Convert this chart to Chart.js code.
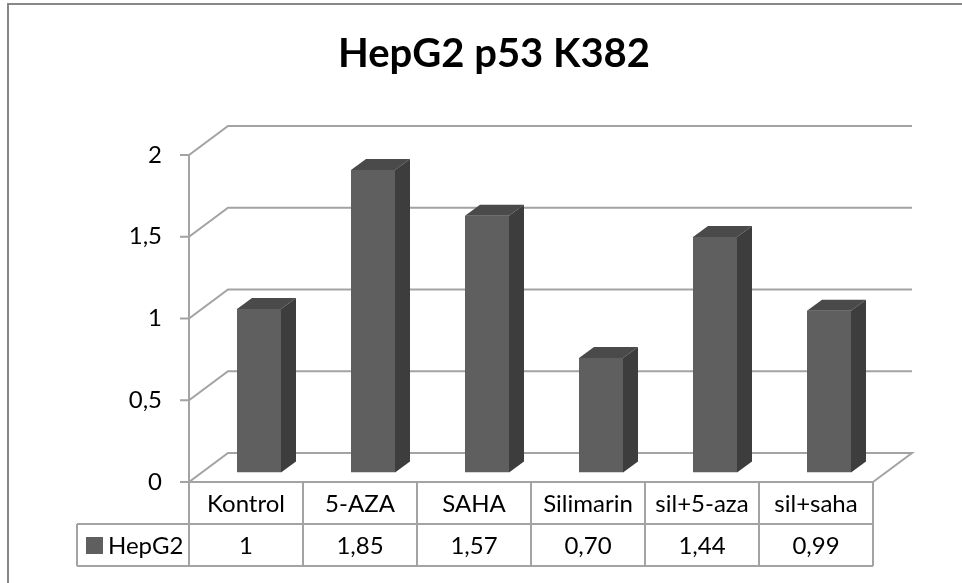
<!DOCTYPE html>
<html>
<head>
<meta charset="utf-8">
<script src="https://cdn.jsdelivr.net/npm/chart.js@4.4.1/dist/chart.umd.min.js"></script>
<style>
  html, body { margin: 0; padding: 0; background: #fff; }
</style>
</head>
<body>
<canvas id="chart" width="962" height="583"></canvas>
<script>
const title = 'HepG2 p53 K382';
const categories = ['Kontrol', '5-AZA', 'SAHA', 'Silimarin', 'sil+5-aza', 'sil+saha'];
const seriesName = 'HepG2';
const values = [1, 1.85, 1.57, 0.70, 1.44, 0.99];
const yTicks = [0, 0.5, 1, 1.5, 2];

// 3d offsets: bars sit on a plane a third of the way into the box
const depth = {fx: -13, fy: 9.5, bx: 26, by: -19.5, barX: 15, barY: -11};
const rowH = 42;
const legendLeft = 77;

const fmtValue = v => Number.isInteger(v) ? String(v) : v.toFixed(2).replace('.', ',');
const fmtTick = v => String(v).replace('.', ',');

const chart3d = {
  id: 'chart3d',
  beforeDraw(chart) {
    const ctx = chart.ctx;
    ctx.save();
    ctx.strokeStyle = '#878787';
    ctx.lineWidth = 2;
    ctx.strokeRect(8, 4, 1200, 1200); // outer frame runs off the picture
    // title is centred on the whole frame, not the plot
    ctx.fillStyle = '#000';
    ctx.font = 'bold 40px Lato';
    ctx.textAlign = 'center';
    ctx.textBaseline = 'alphabetic';
    ctx.fillText(title, 494, 67);
    ctx.restore();
  },
  beforeDatasetsDraw(chart) {
    const {ctx, chartArea: a, scales: {x, y}} = chart;
    const fl = a.left + depth.fx, fr = a.right + depth.fx;
    const bl = a.left + depth.bx, br = a.right + depth.bx;
    const r0 = y.getPixelForValue(0) + depth.fy;
    const r1 = r0 + rowH, r2 = r1 + rowH;
    const colW = x.width / categories.length;

    ctx.save();
    ctx.lineWidth = 2;
    ctx.strokeStyle = '#a3a3a3';

    // walls + gridlines
    yTicks.forEach(t => {
      const py = y.getPixelForValue(t);
      ctx.beginPath();
      ctx.moveTo(fl - 9, py + depth.fy);
      ctx.lineTo(fl, py + depth.fy);
      ctx.lineTo(bl, py + depth.by);
      ctx.lineTo(br, py + depth.by);
      if (t === 0) ctx.lineTo(fr, r0);
      ctx.stroke();
    });

    // front axis down through the table
    ctx.beginPath();
    ctx.moveTo(fl, y.getPixelForValue(yTicks[yTicks.length - 1]) + depth.fy);
    ctx.lineTo(fl, r2);
    ctx.stroke();

    // data table
    ctx.beginPath();
    ctx.moveTo(fl, r0); ctx.lineTo(fr, r0);
    ctx.moveTo(legendLeft, r1); ctx.lineTo(fr, r1);
    ctx.moveTo(legendLeft, r2); ctx.lineTo(fr, r2);
    ctx.moveTo(legendLeft, r1); ctx.lineTo(legendLeft, r2);
    for (let i = 1; i <= categories.length; i++) {
      const cx = x.getPixelForValue(i - 1) + colW / 2 + depth.fx;
      ctx.moveTo(cx, r0); ctx.lineTo(cx, r2);
    }
    ctx.stroke();

    ctx.fillStyle = '#000';
    ctx.font = '24px Lato';
    ctx.textBaseline = 'middle';

    // y tick labels
    ctx.textAlign = 'right';
    yTicks.forEach(t => {
      ctx.fillText(fmtTick(t), fl - 27, y.getPixelForValue(t) + depth.fy);
    });

    ctx.textAlign = 'center';
    categories.forEach((c, i) => {
      const cx = x.getPixelForValue(i) + depth.fx;
      ctx.fillText(c, cx, (r0 + r1) / 2 + 1);
      ctx.fillText(fmtValue(values[i]), cx, (r1 + r2) / 2 + 1);
    });

    // legend key
    ctx.fillStyle = '#5f5f5f';
    ctx.fillRect(legendLeft + 9, (r1 + r2) / 2 - 8, 17, 17);
    ctx.fillStyle = '#000';
    ctx.textAlign = 'left';
    ctx.fillText(seriesName, legendLeft + 31, (r1 + r2) / 2 + 1);
    ctx.restore();
  },
  afterDatasetsDraw(chart) {
    const ctx = chart.ctx;
    const meta = chart.getDatasetMeta(0);
    ctx.save();
    meta.data.forEach(bar => {
      const {x, y, base, width} = bar.getProps(['x', 'y', 'base', 'width'], true);
      const l = x - width / 2, r = x + width / 2;
      // top
      ctx.fillStyle = '#4a4a4a';
      ctx.beginPath();
      ctx.moveTo(l, y);
      ctx.lineTo(l + depth.barX, y + depth.barY);
      ctx.lineTo(r + depth.barX, y + depth.barY);
      ctx.lineTo(r, y);
      ctx.closePath();
      ctx.fill();
      // side
      ctx.fillStyle = '#3d3d3d';
      ctx.beginPath();
      ctx.moveTo(r, y);
      ctx.lineTo(r + depth.barX, y + depth.barY);
      ctx.lineTo(r + depth.barX, base + depth.barY);
      ctx.lineTo(r, base);
      ctx.closePath();
      ctx.fill();
    });
    ctx.restore();
  }
};

new Chart(document.getElementById('chart'), {
  type: 'bar',
  data: {
    labels: categories,
    datasets: [{
      label: seriesName,
      data: values,
      backgroundColor: '#5f5f5f',
      borderWidth: 0,
      categoryPercentage: 1,
      barPercentage: 0.386
    }]
  },
  options: {
    responsive: false,
    animation: false,
    layout: {padding: {left: 202, right: 76, top: 145.5, bottom: 110.5}},
    scales: {
      x: {display: false},
      y: {display: false, min: 0, max: 2, ticks: {stepSize: 0.5}}
    },
    plugins: {
      legend: {display: false},
      tooltip: {enabled: false},
      title: {display: false}
    }
  },
  plugins: [chart3d]
});
</script>
</body>
</html>
